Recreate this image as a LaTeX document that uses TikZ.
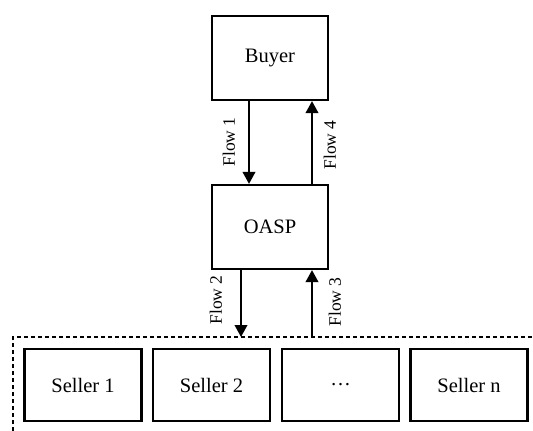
\documentclass[tikz,border=0pt]{standalone}
\usepackage{fontspec}
\setmainfont{Liberation Serif}
\usetikzlibrary{arrows.meta}
\begin{document}
\begin{tikzpicture}[x=1pt,y=-1pt,
  box/.style={draw,line width=2.2pt,minimum width=116pt,minimum height=84pt,inner sep=0pt,font=\fontsize{20.5}{24}\selectfont},
  seller/.style={draw,line width=2.2pt,minimum width=117pt,minimum height=72pt,inner sep=0pt,font=\fontsize{20.5}{24}\selectfont},
  flow/.style={line width=2.2pt,-{Triangle[length=12pt,width=12.5pt]}},
  bus/.style={line width=2.2pt,dash pattern=on 4pt off 3pt},
  lbl/.style={rotate=90,font=\fontsize{17.5}{20}\selectfont,inner sep=0pt}]
\useasboundingbox (0,0) rectangle (533,431);
% main parties
\node[box] (buyer) at (270,58) {Buyer};
\node[box] (oasp) at (270,227) {OASP};
% seller group
\node[seller] (s1) at (83,385) {Seller 1};
\node[seller] (s2) at (211.5,385) {Seller 2};
\node[seller] (s3) at (340.5,385) {\dots};
\node[seller] (sn) at (469,385) {Seller n};
% dashed boundary of the seller group
\coordinate (busL) at (13,337);
\coordinate (busR) at (533,337);
\coordinate (busB) at (13,431);
\draw[bus] (busB) -- (busL) -- (busR);
% flow columns
\coordinate (c1) at (249,0);
\coordinate (c4) at (312,0);
\coordinate (c2) at (241,0);
\coordinate (c3) at (312,0);
\draw[flow] (buyer.south -| c1) -- (oasp.north -| c1);
\draw[flow] (oasp.north -| c4) -- (buyer.south -| c4);
\draw[flow] (oasp.south -| c2) -- (busL -| c2);
\draw[flow] (busL -| c3) -- (oasp.south -| c3);
% flow labels
\node[lbl] (l1) at (229,142) {Flow 1};
\node[lbl] (l4) at (330,145) {Flow 4};
\node[lbl] (l2) at (216,300) {Flow 2};
\node[lbl] (l3) at (335,302) {Flow 3};
\end{tikzpicture}
\end{document}
